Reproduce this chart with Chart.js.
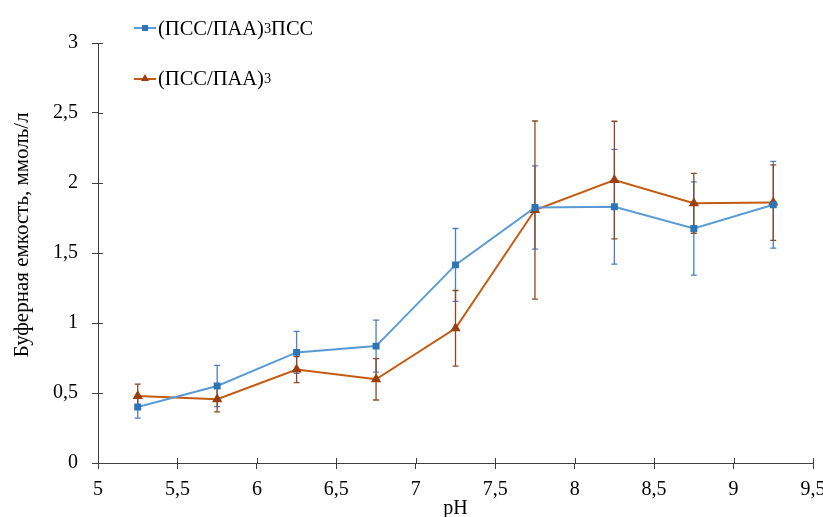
<!DOCTYPE html>
<html>
<head>
<meta charset="utf-8">
<script src="https://cdn.jsdelivr.net/npm/chart.js@4"></script>
<style>
  html, body { margin:0; padding:0; background:#fff; }
  #wrap { position:relative; width:823px; height:517px; }
  .leg { position:absolute; left:134px; height:24px; display:flex; align-items:center;
         font:20.5px 'Liberation Serif', 'Times New Roman', serif; color:#000; white-space:nowrap; }
  .leg svg { margin-right:2px; }
  .leg sub { font-size:0.7em; vertical-align:-0.15em; line-height:0; }
</style>
</head>
<body>
<div id="wrap">
  <canvas id="c" width="823" height="517"></canvas>
  <div class="leg" style="top:16px">
    <svg width="22" height="10"><line x1="0" y1="5" x2="22" y2="5" stroke="#5b9bd5" stroke-width="2"/><rect x="8" y="2" width="6" height="6" fill="#2e75b6"/></svg>(ПСС/ПАА)<sub>3</sub>ПСС
  </div>
  <div class="leg" style="top:66px">
    <svg width="22" height="10"><line x1="0" y1="6" x2="22" y2="6" stroke="#c55a11" stroke-width="2"/><polygon points="11,1 15,8 7,8" fill="#9c3f0c"/></svg>(ПСС/ПАА)<sub>3</sub>
  </div>
</div>
<script>
// values
const pH        = [5.25, 5.75, 6.25, 6.75, 7.25, 7.75, 8.25, 8.75, 9.25];
const pssVals   = [0.40, 0.55, 0.79, 0.835, 1.415, 1.825, 1.83, 1.675, 1.845];
const pssErr    = [0.08, 0.147, 0.15, 0.186, 0.26, 0.297, 0.41, 0.333, 0.31];
const paaVals   = [0.478, 0.455, 0.667, 0.598, 0.962, 1.807, 2.021, 1.855, 1.86];
const paaErr    = [0.085, 0.09, 0.093, 0.148, 0.27, 0.636, 0.42, 0.214, 0.27];
const seriesNames = ['(ПСС/ПАА)₃ПСС', '(ПСС/ПАА)₃'];
const yTitle = 'Буферная емкость, ммоль/л';

const FONT = "'Liberation Serif', 'Times New Roman', serif";
const comma = v => String(v).replace('.', ',');
const pts = vals => vals.map((y, i) => ({ x: pH[i], y }));

// vertical error bars with caps, drawn under the lines
const errorBars = {
  id: 'errorBars',
  beforeDatasetsDraw(chart) {
    const { ctx, scales: { x, y } } = chart;
    ctx.save();
    chart.data.datasets.forEach(ds => {
      ctx.strokeStyle = ds.errColor;
      ctx.lineWidth = 1.3;
      ds.data.forEach((p, i) => {
        const px = x.getPixelForValue(p.x);
        const hi = y.getPixelForValue(p.y + ds.errors[i]);
        const lo = y.getPixelForValue(p.y - ds.errors[i]);
        ctx.beginPath();
        ctx.moveTo(px, hi); ctx.lineTo(px, lo);
        ctx.moveTo(px - 3, hi); ctx.lineTo(px + 3, hi);
        ctx.moveTo(px - 3, lo); ctx.lineTo(px + 3, lo);
        ctx.stroke();
      });
    });
    ctx.restore();
  }
};

// tick marks cross the axis in the original, add the inner half;
// the y title sits a bit above the plot's middle, so draw it here
const axisExtras = {
  id: 'axisExtras',
  afterDraw(chart) {
    const { ctx, chartArea: a, scales: { x, y } } = chart;
    ctx.save();
    ctx.strokeStyle = '#404040';
    ctx.lineWidth = 1;
    ctx.beginPath();
    x.ticks.forEach(t => { const px = Math.round(x.getPixelForValue(t.value)) + 0.5; ctx.moveTo(px, a.bottom); ctx.lineTo(px, a.bottom - 5); });
    y.ticks.forEach(t => { const py = Math.round(y.getPixelForValue(t.value)) + 0.5; ctx.moveTo(a.left, py); ctx.lineTo(a.left + 5, py); });
    ctx.stroke();

    ctx.translate(22, y.getPixelForValue(1.63));
    ctx.rotate(-Math.PI / 2);
    ctx.font = '21px ' + FONT;
    ctx.fillStyle = '#000';
    ctx.textAlign = 'center';
    ctx.textBaseline = 'middle';
    ctx.fillText(yTitle, 0, 0);
    ctx.restore();
  }
};

new Chart(document.getElementById('c'), {
  type: 'line',
  data: {
    datasets: [
      { label: seriesNames[0], data: pts(pssVals), errors: pssErr, errColor: '#4a7fc4',
        borderColor: '#5b9bd5', borderWidth: 2, pointStyle: 'rect', pointRadius: 3.5,
        pointBackgroundColor: '#2e75b6', pointBorderColor: '#2e75b6', tension: 0 },
      { label: seriesNames[1], data: pts(paaVals), errors: paaErr, errColor: '#8a4a28',
        borderColor: '#c55a11', borderWidth: 2, pointStyle: 'triangle', pointRadius: 4,
        pointBackgroundColor: '#9c3f0c', pointBorderColor: '#9c3f0c', tension: 0 }
    ]
  },
  options: {
    responsive: false, animation: false,
    layout: { padding: { top: 43, right: 10, left: 0, bottom: 0 } },
    plugins: { legend: { display: false }, tooltip: { enabled: false } },
    scales: {
      x: {
        type: 'linear', min: 5, max: 9.5,
        afterFit: s => { s.height = 54; s.paddingRight = 0; },
        grid: { drawOnChartArea: false, color: '#404040', tickLength: 6 },
        border: { color: '#404040', width: 1 },
        ticks: { stepSize: 0.5, color: '#000', padding: 9, font: { family: FONT, size: 20 }, callback: comma },
        title: { display: true, text: 'pH', color: '#000', padding: { top: 0, bottom: -4 }, font: { family: FONT, size: 20 } }
      },
      y: {
        min: 0, max: 3,
        afterFit: s => { s.width = 98; },
        grid: { drawOnChartArea: false, color: '#404040', tickLength: 6 },
        border: { color: '#404040', width: 1 },
        ticks: { stepSize: 0.5, color: '#000', padding: 14, font: { family: FONT, size: 20 }, callback: comma }
      }
    }
  },
  plugins: [errorBars, axisExtras]
});
</script>
</body>
</html>
